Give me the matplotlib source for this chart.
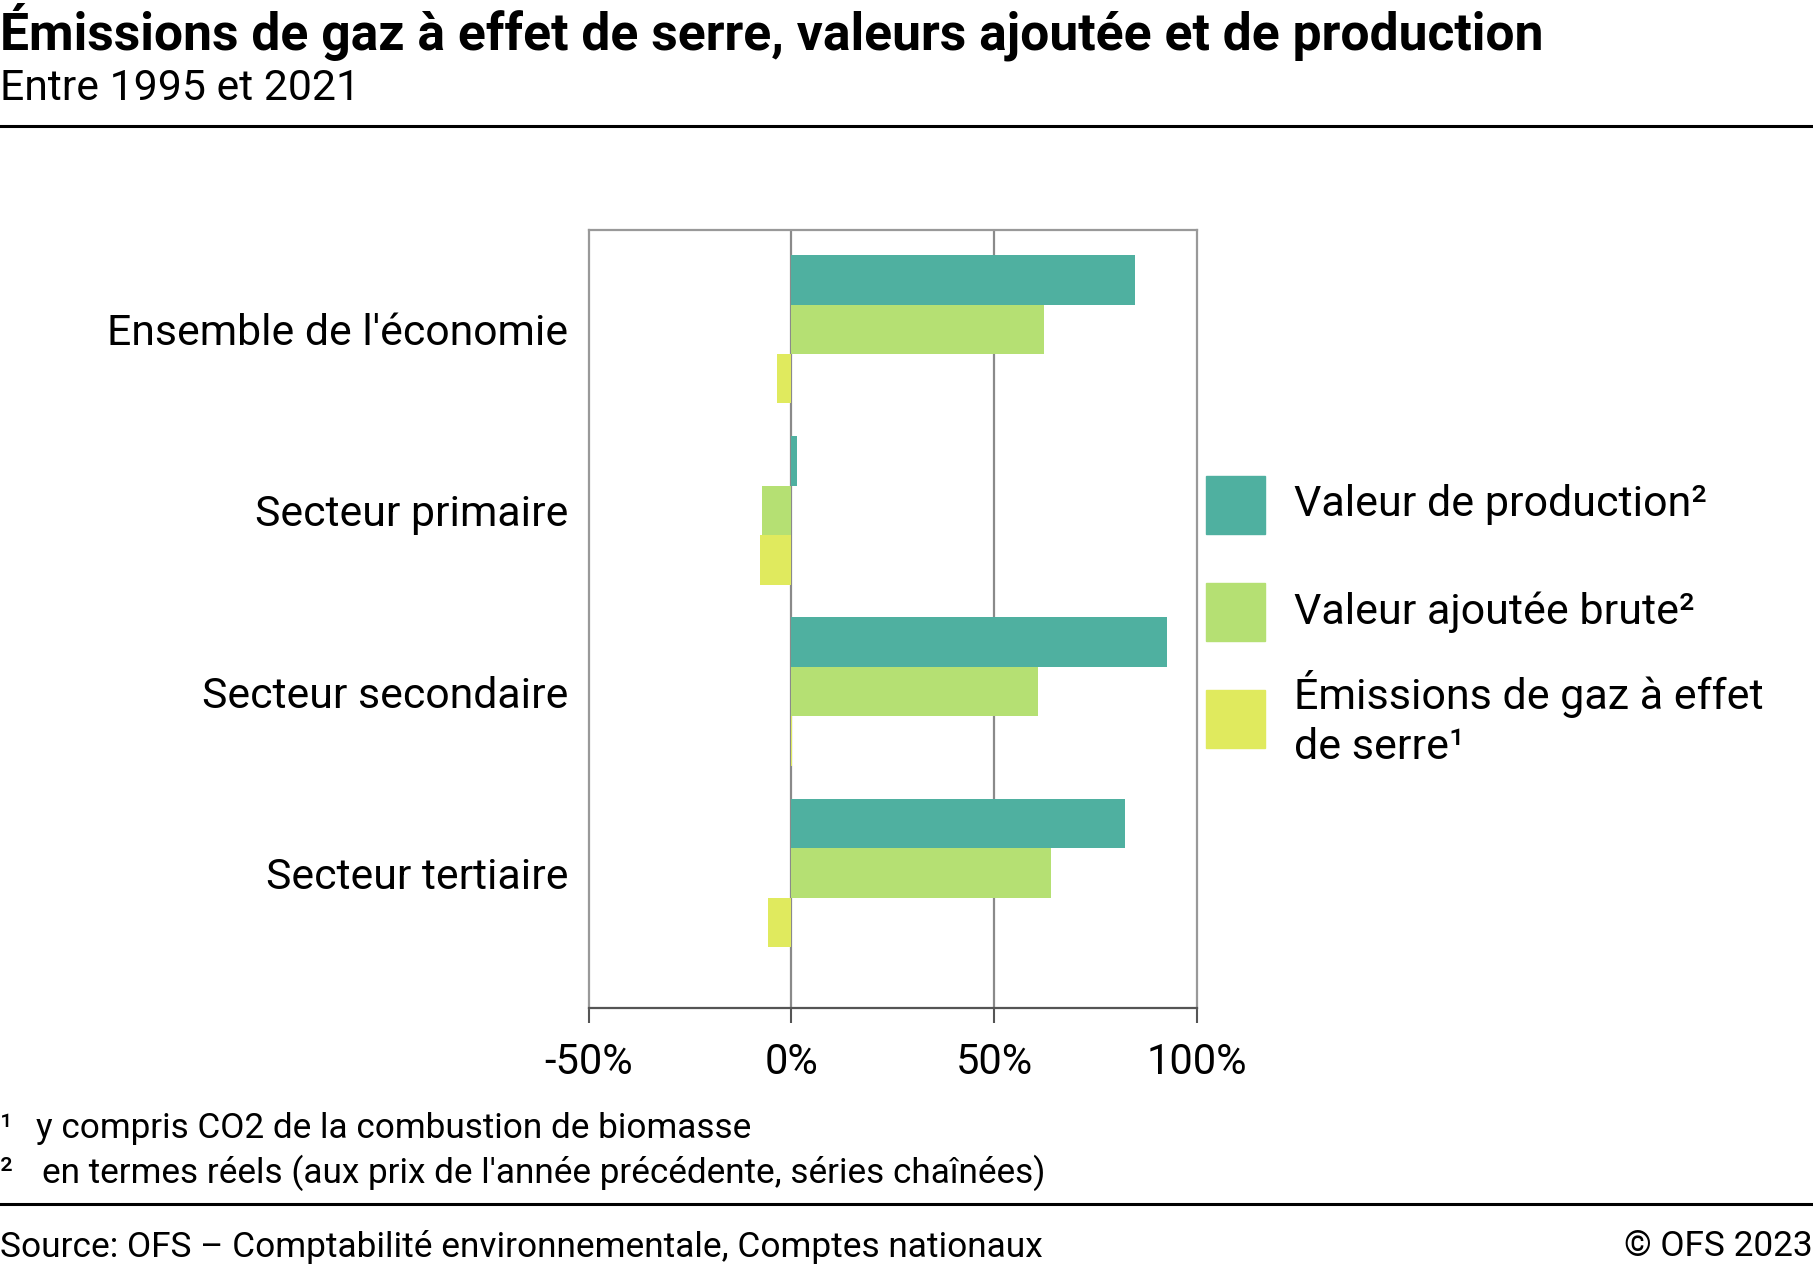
import matplotlib
matplotlib.use("Agg")
import matplotlib.pyplot as plt
import matplotlib.patches as mpatches
import numpy as np

plt.rcParams['font.family'] = ['Roboto', 'DejaVu Sans']

categories = ["Ensemble de l'économie", "Secteur primaire",
              "Secteur secondaire", "Secteur tertiaire"]
production = [84.9, 1.5, 92.6, 82.3]
valeur_ajoutee = [62.3, -7.1, 60.9, 64.0]
emissions = [-3.4, -7.8, 0.3, -5.8]
series_labels = ["Valeur de production²", "Valeur ajoutée brute²",
                 "Émissions de gaz à effet\nde serre¹"]
xticks = [-50, 0, 50, 100]
xtick_labels = ["-50%", "0%", "50%", "100%"]

colors = ["#4fb0a0", "#b5e073", "#e0ea5e"]

W, H = 1568, 1097  # layout measured on this grid


def fx(x):
    return x / W


def fy(y):
    return 1 - y / H


fig = plt.figure(figsize=(18.13, 12.70), dpi=100)
ax = fig.add_axes([fx(509), fy(871), fx(1035) - fx(509), fy(199) - fy(871)])

y = np.arange(len(categories))
h = 0.273
for vals, off, c in zip([production, valeur_ajoutee, emissions], [-h, 0, h], colors):
    ax.barh(y + off, vals, height=h, color=c, zorder=2)

ax.set_xlim(-50, 100)
ax.set_ylim(3.748, -0.546)
ax.set_xticks(xticks)
ax.set_xticklabels(xtick_labels, fontsize=30)
ax.set_yticks(y)
ax.set_yticklabels(categories, fontsize=30.8)
ax.tick_params(axis='y', length=0, pad=14.5)
ax.tick_params(axis='x', length=11, width=1.5, color="#555555", pad=13.5)
for x in [0, 50]:
    ax.axvline(x, color="#8a8a8a", lw=1.6, zorder=1)
for s in ax.spines.values():
    s.set_color("#999999")
    s.set_linewidth(1.6)
ax.spines['bottom'].set_color("#555555")

# legend
leg_y = [436, 529, 621]
for yy, c, lab in zip(leg_y, colors, series_labels):
    fig.patches.append(mpatches.Rectangle((fx(1043), fy(yy + 25)), fx(1094) - fx(1043),
                                          fy(yy - 25) - fy(yy + 25),
                                          transform=fig.transFigure, color=c))
    fig.text(fx(1119), fy(yy), lab, fontsize=31, va='center', ha='left', linespacing=1.27)

# titles
fig.text(0.0, fy(43), "Émissions de gaz à effet de serre, valeurs ajoutée et de production",
         fontsize=37.2, fontweight='bold', va='baseline', ha='left')
fig.text(0.0, fy(86), "Entre 1995 et 2021", fontsize=30.8, va='baseline', ha='left')
fig.add_artist(plt.Line2D([0, 1], [fy(109), fy(109)], color='black', lw=2.2))

# footnotes
fig.text(0.0, fy(975), "¹", fontsize=25.3, va='center', ha='left')
fig.text(fx(31), fy(975), "y compris CO2 de la combustion de biomasse", fontsize=25.3,
         va='center', ha='left')
fig.text(0.0, fy(1013), "²", fontsize=25.3, va='center', ha='left')
fig.text(fx(36), fy(1013), "en termes réels (aux prix de l'année précédente, séries chaînées)",
         fontsize=25.3, va='center', ha='left')
fig.add_artist(plt.Line2D([0, 1], [fy(1040), fy(1040)], color='black', lw=2.2))
fig.text(0.0, fy(1077), "Source: OFS – Comptabilité environnementale, Comptes nationaux",
         fontsize=25.4, va='center', ha='left')
fig.text(1.0, fy(1077), "© OFS 2023", fontsize=25.4, va='center', ha='right')

fig.savefig("out.png", dpi=100)
